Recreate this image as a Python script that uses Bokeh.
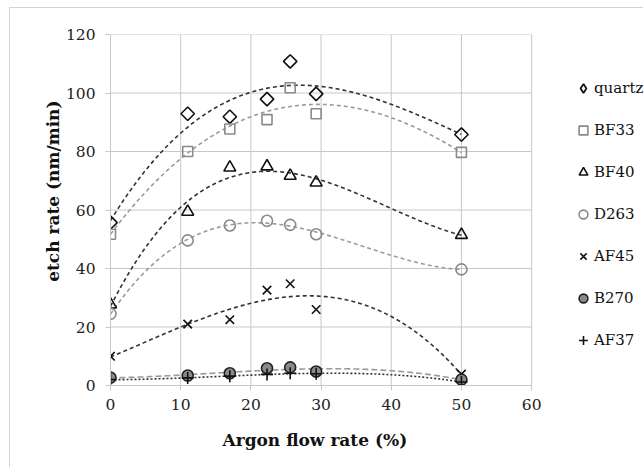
import numpy as np
from bokeh.plotting import figure
from bokeh.models import Range1d, Legend, LegendItem, Title, FixedTicker
from bokeh.embed import file_html
from bokeh.resources import INLINE

argon = [0, 11, 17, 22.3, 25.6, 29.3, 50]
series_names = ["quartz", "BF33", "BF40", "D263", "AF45", "B270", "AF37"]
quartz = [55.7, 92.9, 91.9, 97.9, 110.8, 99.7, 85.8]
bf33 = [51.7, 80.0, 87.7, 90.9, 101.8, 92.9, 79.7]
bf40 = [27.7, 59.4, 74.5, 74.9, 71.7, 69.4, 51.5]
d263 = [24.5, 49.6, 54.7, 56.3, 54.9, 51.7, 39.7]
af45 = [10.0, 21.0, 22.5, 32.6, 34.8, 26.0, 3.9]
b270 = [2.7, 3.4, 4.2, 5.9, 6.2, 4.8, 2.0]
af37 = [2.0, 2.6, 3.2, 3.8, 4.2, 4.0, 1.2]
x_ticks = [0, 10, 20, 30, 40, 50, 60]
y_ticks = [0, 20, 40, 60, 80, 100, 120]
X_MAX = 60      # end of the plotted axis
X_VIEW = 76.08  # frame extends to the right to hold the legend

FONT = "DejaVu Serif"
GRID = "#c8c8c8"

p = figure(width=634, height=460, output_backend="svg", toolbar_location=None,
           x_range=Range1d(0, X_VIEW), y_range=Range1d(0, 120),
           min_border_left=100, min_border_right=0, min_border_top=26, min_border_bottom=83)
p.margin = (7, 0, 0, 9)
p.styles = {"border-left": "1px solid #d4d4d4", "border-top": "1px solid #d4d4d4"}
p.background_fill_color = "white"
p.border_fill_color = "white"
p.outline_line_color = None
p.grid.visible = False

p.segment(x0=[0] * len(y_ticks), x1=[X_MAX] * len(y_ticks), y0=y_ticks, y1=y_ticks,
          line_color=GRID, line_width=1)
p.segment(x0=x_ticks, x1=x_ticks, y0=[0] * len(x_ticks), y1=[y_ticks[-1]] * len(x_ticks),
          line_color=GRID, line_width=1)

for ax in (p.xaxis[0], p.yaxis[0]):
    ax.axis_line_color = GRID
    ax.major_tick_line_color = GRID
    ax.major_tick_out = 5
    ax.major_tick_in = 0
    ax.minor_tick_line_color = None
    ax.major_label_text_font = FONT
    ax.major_label_text_font_size = "15.5px"
    ax.major_label_text_color = "#222222"
p.xaxis[0].bounds = (0, X_MAX)
p.xaxis[0].major_label_standoff = 8
p.yaxis[0].major_label_standoff = 10
p.xaxis[0].ticker = FixedTicker(ticks=x_ticks)
p.yaxis[0].ticker = FixedTicker(ticks=y_ticks)

xt = Title(text="Argon flow rate (%)", align="left", offset=112, standoff=30,
           text_font=FONT, text_font_size="17px", text_font_style="bold", text_color="#111111")
p.add_layout(xt, "below")
yt = Title(text="etch rate (nm/min)", align="right", offset=66, standoff=-1,
           text_font=FONT, text_font_size="17px", text_font_style="bold", text_color="#111111")
p.add_layout(yt, "left")

styles = [
    # data, marker, legend marker, size, angle, line color, fill color, trend color, dash
    (quartz, "square", "diamond", 9.5, np.pi / 4, "#111111", None, "#333333", "4 3"),
    (bf33, "square", "square", 10, 0, "#8a8a8a", None, "#9a9a9a", "4 3"),
    (bf40, "triangle", "triangle", 12, 0, "#111111", None, "#333333", "4 3"),
    (d263, "circle", "circle", 11, 0, "#8a8a8a", None, "#9a9a9a", "4 3"),
    (af45, "x", "x", 12, 0, "#111111", None, "#333333", "4 3"),
    (b270, "circle", "circle", 11, 0, "#222222", "#8a8a8a", "#9a9a9a", "6 3"),
    (af37, "cross", "cross", 12, 0, "#111111", None, "#333333", "2 2"),
]

xs_fit = np.linspace(0, 50, 200)
items = []
for name, (data, marker, lmarker, size, angle, lc, fc, tc, dash) in zip(series_names, styles):
    coef = np.polyfit(argon, data, 3)
    p.line(xs_fit, np.polyval(coef, xs_fit), line_color=tc, line_width=1.6, line_dash=dash)
for name, (data, marker, lmarker, size, angle, lc, fc, tc, dash) in zip(series_names, styles):
    r = p.scatter(argon, data, marker=marker, size=size, angle=angle,
                  line_color=lc, line_width=1.6, fill_color=fc if fc else None)
    if lmarker != marker:
        # legend-only twin (hidden in the plot) so the key shows a diamond
        r = p.scatter(argon, data, marker=lmarker, size=size,
                      line_color=lc, line_width=1.8, fill_color=fc if fc else None)
        r.visible = False
    items.append(LegendItem(label=name, renderers=[r]))

legend = Legend(items=items, location=(462, 34), orientation="vertical",
                label_text_font=FONT, label_text_font_size="15px", label_text_color="#111111",
                glyph_width=22, glyph_height=22, label_height=20, spacing=20,
                label_standoff=-2, padding=0, margin=0,
                inactive_fill_alpha=0,
                background_fill_alpha=0, border_line_color=None)
p.add_layout(legend, "center")

open("out.html", "w").write(file_html(p, INLINE))
